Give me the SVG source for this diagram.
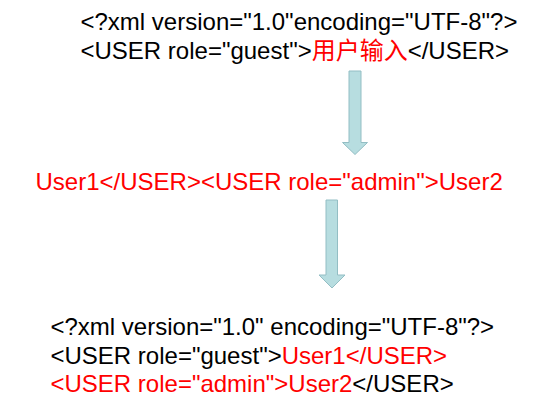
<svg xmlns="http://www.w3.org/2000/svg" width="560" height="410" viewBox="0 0 560 410">
<style>
text{font-family:"Liberation Sans",Arial,"Noto Sans CJK SC",sans-serif;font-size:24px;fill:#000}
.r{fill:#FF0000}
.arrow{fill:#B7DDE0;stroke:#93BEC4;stroke-width:1}
</style>
<rect width="560" height="410" fill="#fff"/>
<g id="input">
<text x="80.5" y="30">&lt;?xml version="1.0"encoding="UTF-8"?&gt;</text>
<text x="80.5" y="58.5">&lt;USER role="guest"&gt;<tspan class="r">用户输入</tspan>&lt;/USER&gt;</text>
</g>
<g id="payload">
<text class="r" x="35.5" y="190">User1&lt;/USER&gt;&lt;USER role="admin"&gt;User2</text>
</g>
<g id="result">
<text x="50.5" y="335">&lt;?xml version="1.0" encoding="UTF-8"?&gt;</text>
<text x="50.5" y="363.5">&lt;USER role="guest"&gt;<tspan class="r">User1&lt;/USER&gt;</tspan></text>
<text x="50.5" y="392"><tspan class="r">&lt;USER role="admin"&gt;User2</tspan>&lt;/USER&gt;</text>
</g>
<g id="connectors">
<path class="arrow" d="M349,71 H361 V142.5 H367.5 L355,154.5 L342.5,142.5 H349 Z"/>
<path class="arrow" d="M326,200 H337.5 V275 H345 L332,288 L319,275 H326 Z"/>
</g>
</svg>
